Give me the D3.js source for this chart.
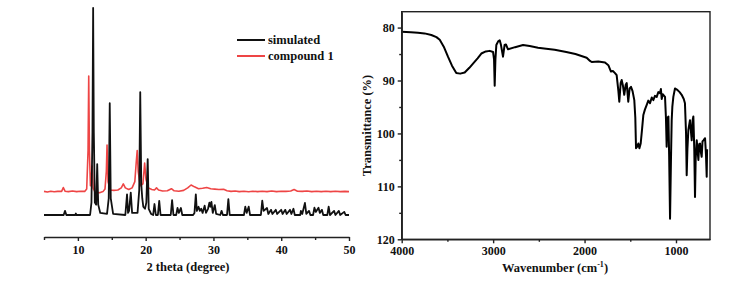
<!DOCTYPE html>
<html>
<head>
<meta charset="utf-8">
<script src="https://cdn.jsdelivr.net/npm/d3@7/dist/d3.min.js"></script>
<style>
  body { margin: 0; background: #fff; }
  svg text { font-family: "Liberation Serif", "Times New Roman", serif; font-weight: bold; fill: #111; }
</style>
</head>
<body>
<div id="chart"></div>
<script>
// ---------- XRD data (2 theta, intensity) ----------
const simulated = [
  [5,0],[7.9,0],[8.1,2],[8.3,0],[9.6,0],[9.7,0.7],[9.8,0],
  [11.8,0],[12.0,6],[12.15,40],[12.25,100],[12.35,40],[12.5,6],[12.7,5],[12.85,24.6],[13.0,5],[13.3,1],
  [14.3,0.5],[14.55,8],[14.7,54],[14.85,8],[15.2,0.5],
  [17.0,0],[17.25,10],[17.4,1],[17.55,2],[17.8,10.8],[18.0,1],
  [18.8,1],[19.05,12],[19.2,59.4],[19.35,15],[19.5,8],[19.65,4],[19.9,3],[20.1,6],[20.3,27],[20.45,3],[20.8,0.5],
  [21.1,0],[21.3,5.3],[21.5,0],[21.8,0],[22.0,6.8],[22.2,0],
  [23.7,0],[23.9,7.2],[24.1,0],[24.5,0],[24.7,3.4],[24.9,1],[25.2,3.4],[25.4,0],
  [27.0,0],[27.2,1],[27.4,10],[27.55,2],[27.8,4],[28.0,2],[28.2,3],[28.4,1],[28.7,4.5],[28.9,1],
  [29.2,3],[29.4,6],[29.55,4],[29.7,6.3],[29.9,1],[30.2,4.8],[30.4,0.5],[31.0,0],[31.2,2],[31.4,0],
  [32.0,0],[32.2,7.7],[32.4,0],
  [34.5,0],[34.7,4],[34.9,1],[35.2,4],[35.4,0],
  [37.0,0],[37.2,6.9],[37.4,2],[37.9,3.4],[38.1,0.5],[38.5,2.5],[38.7,0.5],[39.2,2.5],[39.4,0.5],
  [40.0,2.5],[40.2,0.5],[40.6,2.5],[40.8,0.5],[41.3,2.5],[41.5,0.5],[41.8,3],[42.0,0],
  [42.8,0],[42.9,2],[43.1,0.5],[43.5,5.8],[43.7,0.5],[44.1,2],[44.3,0],[44.7,0],[44.9,3.5],[45.1,1.5],
  [45.5,3.5],[45.7,1],[46.0,2.5],[46.2,0],
  [46.8,0],[47.0,4],[47.2,0],[47.8,2],[48.0,0],[48.5,2],[48.7,0],[49.3,1.5],[49.5,0],[50,0]
];

const compound1 = [
  [5,0.3],[5.5,0],[6,0.4],[6.5,0.1],[7,0.3],[7.6,0.3],[7.85,2.2],[8.1,0.4],[8.6,0.2],[9.2,0.5],[9.8,0.2],
  [10.4,0.4],[11.0,0.3],[11.3,1.5],[11.5,20],[11.6,56],[11.7,20],[11.85,3],[11.95,5],[12.1,12.5],[12.25,2],
  [12.6,-0.5],[13.2,-0.3],[13.7,0.2],[14.0,1.5],[14.2,10],[14.3,22.7],[14.45,5],[14.8,1],[15.3,0.8],[15.9,1],
  [16.4,2],[16.7,3.9],[17.0,2],[17.5,1.2],[18.0,2],[18.4,5],[18.6,14],[18.75,20],[18.9,10],[19.2,3],[19.6,4],
  [19.85,14],[20.05,6],[20.4,2],[20.9,1.2],[21.3,1],[21.6,2],[21.9,1],[22.5,0.5],[23.2,0.6],[23.8,1.6],
  [24.2,0.6],[24.9,0.4],[25.6,0.8],[26.2,2],[26.7,3.4],[27.2,2.5],[27.8,1.6],[28.4,1.8],[29.0,2.2],[29.6,1.6],
  [30.2,1.4],[30.8,1.2],[31.5,1.3],[32.0,0.6],[32.6,0.3],[33.2,0.5],[33.8,0.2],[34.5,0.4],[35.2,0.1],[35.8,0.4],
  [36.5,0.2],[37.2,0.4],[37.9,0.2],[38.6,0.5],[39.3,0.2],[40.0,0.4],[40.7,0.3],[41.4,0.5],[41.9,1.2],[42.4,0.4],
  [43.1,0.3],[43.8,0.5],[44.5,0.2],[45.2,0.4],[45.9,0.2],[46.6,0.4],[47.3,0.2],[48.0,0.4],[48.7,0.2],[49.4,0.3],[50,0.2]
];
const compoundOffset = 11.1;

const xrdTicks = [10, 20, 30, 40, 50];
const xrdMinorTicks = [5, 15, 25, 35, 45];
const legendItems = [
  { name: "simulated", color: "#111" },
  { name: "compound 1", color: "#ee4545" }
];

// ---------- IR data (wavenumber, transmittance) ----------
const irSpectrum = [
  [4000,80.8],[3900,80.9],[3822,81.0],[3750,81.1],[3676,81.4],[3620,81.8],[3584,82.3],[3540,83.6],[3494,85.5],
  [3450,87.2],[3403,88.6],[3360,88.7],[3311,88.5],[3260,87.6],[3220,86.8],[3170,85.8],[3129,84.9],[3080,84.5],
  [3037,84.4],[3001,84.6],[2990,86],[2983,91.0],[2975,86],[2965,83.3],[2945,82.6],[2928,82.4],[2914,83.3],
  [2892,85.5],[2875,83.3],[2860,83.2],[2837,84.1],[2760,83.7],[2673,83.3],[2600,83.5],[2509,83.8],[2420,84.0],
  [2327,84.2],[2200,84.6],[2100,85.0],[1977,85.7],[1940,86.3],[1922,86.5],[1850,86.4],[1776,86.6],[1740,87.1],
  [1711,88.3],[1690,88.2],[1667,88.6],[1649,89.0],[1630,92],[1620,94.0],[1605,90.5],[1594,89.9],[1580,91],
  [1566,92.7],[1550,90.8],[1539,90.5],[1522,94.0],[1507,91.5],[1492,91.2],[1475,92],[1456,93.7],[1445,97],
  [1437,102.8],[1425,102.5],[1412,101.9],[1400,102.8],[1386,101.9],[1370,99],[1357,96.5],[1340,95.5],
  [1320,94.6],[1303,93.8],[1284,94.3],[1265,93.2],[1248,93.7],[1230,92.9],[1211,93.1],[1193,92.2],[1175,92.4],
  [1165,91.6],[1156,93.5],[1145,92.6],[1120,93.1],[1110,97],[1102,102.5],[1092,97],[1083,96.8],[1075,104],
  [1065,116.1],[1055,105],[1047,97.5],[1040,95],[1029,93.1],[1011,91.5],[990,91.7],[960,92.2],[938,92.7],
  [915,93.5],[902,94.3],[890,100],[883,107.9],[875,103],[865,99.4],[847,97.5],[828,101.3],[818,97.5],
  [810,96.8],[800,103],[792,112],[785,105],[773,101.3],[765,103],[755,105],[746,102],[737,101.9],[728,103.5],
  [719,104.4],[710,101.5],[700,101.3],[682,100.9],[672,104],[664,108.2],[660,103]
];
const irXTicks = [4000, 3000, 2000, 1000];
const irXMinor = [3500, 2500, 1500];
const irYTicks = [80, 90, 100, 110, 120];
const irYMinor = [85, 95, 105, 115];

const W = 751, H = 281;
const svg = d3.select("#chart").append("svg")
  .attr("width", W).attr("height", H);

// ================== Left: XRD ==================
const x1 = d3.scaleLinear().domain([5, 50]).range([44, 349]);
const y1 = d3.scaleLinear().domain([0, 100]).range([215, 8]);
const axisY1 = 237;

const line1 = d3.line().x(d => x1(d[0])).y(d => y1(d[1]));

svg.append("path")
  .datum(compound1.map(d => [d[0], d[1] + compoundOffset]))
  .attr("d", line1)
  .attr("fill", "none")
  .attr("stroke", legendItems[1].color)
  .attr("stroke-width", 1.6)
  .attr("stroke-linejoin", "round");

svg.append("path")
  .datum(simulated)
  .attr("d", line1)
  .attr("fill", "none")
  .attr("stroke", legendItems[0].color)
  .attr("stroke-width", 1.8)
  .attr("stroke-linejoin", "round");

const gx1 = svg.append("g").attr("transform", `translate(0,${axisY1})`);
gx1.call(d3.axisBottom(x1).tickValues(xrdTicks).tickSize(4).tickPadding(4).tickSizeOuter(0));
gx1.append("g").call(d3.axisBottom(x1).tickValues(xrdMinorTicks).tickSize(3).tickFormat("").tickSizeOuter(0))
  .select(".domain").remove();
gx1.selectAll(".domain, line").attr("stroke", "#222").attr("stroke-width", 1.4);
gx1.selectAll("text").attr("font-size", 12).attr("fill", "#111").attr("font-family", null);

svg.append("text")
  .attr("x", 188).attr("y", 271)
  .attr("text-anchor", "middle")
  .attr("font-size", 12.5)
  .text("2 theta (degree)");

// legend
const leg = svg.append("g");
legendItems.forEach((d, i) => {
  const ly = 40 + i * 16;
  leg.append("line")
    .attr("x1", 237).attr("x2", 265).attr("y1", ly).attr("y2", ly)
    .attr("stroke", d.color).attr("stroke-width", 2);
  leg.append("text")
    .attr("x", 268).attr("y", ly + 4)
    .attr("font-size", 12.5)
    .text(d.name);
});

// ================== Right: IR ==================
const x2 = d3.scaleLinear().domain([4000, 628]).range([401.7, 710]);
const y2 = d3.scaleLinear().domain([77, 120]).range([11.7, 239.3]);

svg.append("rect")
  .attr("x", x2.range()[0]).attr("y", y2.range()[0])
  .attr("width", x2.range()[1] - x2.range()[0])
  .attr("height", y2.range()[1] - y2.range()[0])
  .attr("fill", "none").attr("stroke", "#222").attr("stroke-width", 1.4);

const line2 = d3.line().x(d => x2(d[0])).y(d => y2(d[1]));
svg.append("path")
  .datum(irSpectrum)
  .attr("d", line2)
  .attr("fill", "none")
  .attr("stroke", "#000")
  .attr("stroke-width", 2)
  .attr("stroke-linejoin", "round");

const gx2 = svg.append("g").attr("transform", `translate(0,${y2.range()[1]})`);
gx2.call(d3.axisBottom(x2).tickValues(irXTicks).tickFormat(d3.format("d"))
  .tickSize(4).tickPadding(3).tickSizeOuter(0));
gx2.append("g").call(d3.axisBottom(x2).tickValues(irXMinor).tickSize(2.5).tickFormat("").tickSizeOuter(0))
  .select(".domain").remove();

const gy2 = svg.append("g").attr("transform", `translate(${x2.range()[0]},0)`);
gy2.call(d3.axisLeft(y2).tickValues(irYTicks).tickSize(4).tickPadding(3).tickSizeOuter(0));
gy2.append("g").call(d3.axisLeft(y2).tickValues(irYMinor).tickSize(2.5).tickFormat("").tickSizeOuter(0))
  .select(".domain").remove();

[gx2, gy2].forEach(g => {
  g.selectAll(".domain, line").attr("stroke", "#222").attr("stroke-width", 1.4);
  g.selectAll("text").attr("font-size", 12).attr("fill", "#111").attr("font-family", null);
});

svg.append("text")
  .attr("x", 555).attr("y", 272)
  .attr("text-anchor", "middle")
  .attr("font-size", 12.5)
  .html('Wavenumber (cm<tspan dy="-5" font-size="8">-1</tspan><tspan dy="5">)</tspan>');

svg.append("text")
  .attr("transform", `translate(371,${(y2.range()[0] + y2.range()[1]) / 2}) rotate(-90)`)
  .attr("text-anchor", "middle")
  .attr("font-size", 12.5)
  .text("Transmittance (%)");
</script>
</body>
</html>
